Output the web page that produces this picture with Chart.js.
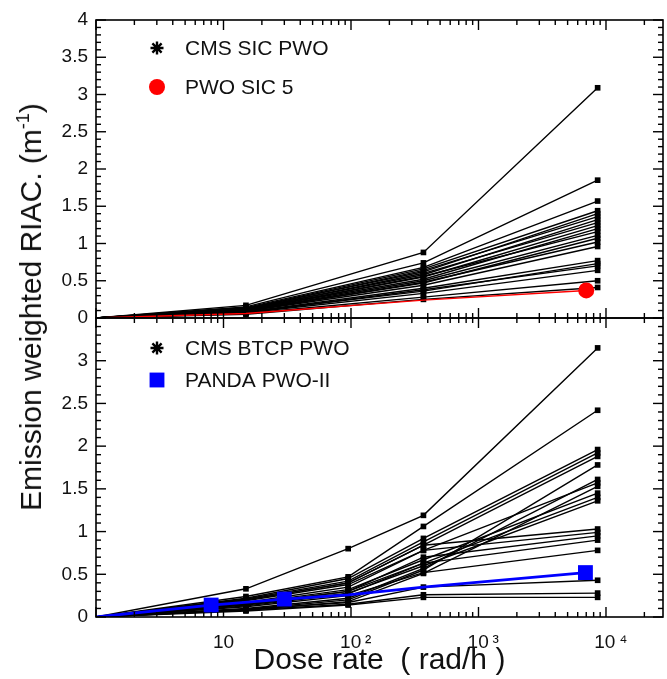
<!DOCTYPE html>
<html><head><meta charset="utf-8">
<script src="https://cdn.jsdelivr.net/npm/chart.js@4/dist/chart.umd.min.js"></script>
<style>
html,body{margin:0;padding:0;background:#fff;}
#wrap{position:relative;width:667px;height:679px;overflow:hidden;font-family:"Liberation Sans",Arial,sans-serif;}
#chart{position:absolute;left:0;top:0;}
#ytitle{position:absolute;left:31px;top:307px;transform:translate(-50%,-50%) rotate(-90deg);white-space:nowrap;font-size:30px;color:#111;line-height:1;}
#ytitle sup{font-size:60%;vertical-align:top;position:relative;top:-2px;}
</style></head><body>
<div id="wrap">
<canvas id="chart" width="667" height="679"></canvas>
<div id="ytitle">Emission weighted RIAC. (m<sup>-1</sup>)</div>
</div>
<script>
// ---------- data ----------
// dose rates (rad/h) of the measurement points
const sicDoseRates  = [1, 15, 370, 8600];
const btcpDoseRates = [1, 15, 95, 370, 8600];
const pwoSic5DoseRates = [1, 15, 370, 7000];
const pandaDoseRates   = [1, 8, 30, 95, 370, 6900];

// top panel: CMS SIC PWO crystals (0 at 1 rad/h)
const sicAt15   = [0.17,0.15,0.14,0.13,0.13,0.12,0.12,0.11,0.11,0.11,0.10,0.10,0.10,0.09,0.09,0.08,0.08,0.07,0.07,0.06,0.05];
const sicAt370  = [0.88,0.74,0.68,0.66,0.62,0.64,0.58,0.60,0.55,0.52,0.56,0.50,0.47,0.48,0.44,0.40,0.36,0.38,0.33,0.28,0.25];
const sicAt8600 = [3.09,1.85,1.57,1.44,1.40,1.36,1.32,1.28,1.24,1.20,1.16,1.11,1.07,1.02,0.96,0.77,0.73,0.70,0.64,0.50,0.41];
const pwoSic5   = [0, 0.06, 0.24, 0.37];

// bottom panel: CMS BTCP PWO crystals
const btcpAt15   = [0.33,0.24,0.22,0.21,0.20,0.09,0.10,0.19,0.08,0.16,0.15,0.14,0.20,0.17,0.15,0.13,0.12,0.09,0.08,0.07];
const btcpAt95   = [0.80,0.47,0.45,0.42,0.40,0.20,0.22,0.38,0.18,0.32,0.30,0.28,0.40,0.35,0.30,0.27,0.25,0.17,0.15,0.14];
const btcpAt370  = [1.19,1.06,0.92,0.88,0.84,0.55,0.57,0.78,0.51,0.67,0.63,0.60,0.84,0.78,0.70,0.63,0.52,0.35,0.26,0.23];
const btcpAt8600 = [3.15,2.42,1.96,1.92,1.88,1.78,1.61,1.57,1.53,1.45,1.40,1.36,1.03,0.99,0.95,0.90,0.78,0.43,0.28,0.23];
const pandaPwoII = [0, 0.14, 0.21, 0.26, 0.35, 0.52];

const legendTop    = ['CMS SIC PWO', 'PWO SIC 5'];
const legendBottom = ['CMS BTCP PWO', 'PANDA PWO-II'];
const xTickLabels  = {10: '10', 100: '\u200210\u2009\u00B2', 1000: '\u200210\u2009\u00B3', 10000: '\u200210\u2009\u2074'};
const topYTicks    = [0, 0.5, 1, 1.5, 2, 2.5, 3, 3.5, 4];
const bottomYTicks = [0, 0.5, 1, 1.5, 2, 2.5, 3];

// ---------- helpers ----------
const FONT = '"Liberation Sans", Arial, sans-serif';
const pts = (xs, ys) => xs.map((x, i) => ({x, y: ys[i]}));
const noPad = s => { s.paddingLeft = 0; s.paddingRight = 0; s.paddingTop = 0; s.paddingBottom = 0; };

function blackSet(label, axis, xs, ys) {
  return {
    label, yAxisID: axis, data: pts(xs, ys), borderColor: '#000', borderWidth: 1.4,
    pointStyle: 'rect', backgroundColor: '#000', pointBackgroundColor: '#000',
    pointBorderWidth: 0, pointRadius: xs.map((x, i) => i === 0 ? 0 : 4),
    tension: 0, fill: false
  };
}

const framePlugin = {
  id: 'frame',
  afterDraw(chart) {
    const {ctx, chartArea: a, scales} = chart;
    const x = scales.x;
    ctx.save();
    ['yTop', 'yBot'].forEach(id => {
      const y = scales[id];
      ctx.strokeStyle = '#000';
      ctx.lineWidth = 1.6;
      ctx.strokeRect(a.left, y.top, a.right - a.left, y.bottom - y.top);
      ctx.fillStyle = '#000';
      const w = 1.4;
      const n = Math.round((y.max - y.min) / 0.1);
      for (let i = 0; i <= n; i++) {
        const p = y.getPixelForValue(y.min + i * 0.1);
        const L = (i % 5 === 0) ? 10 : 5;
        ctx.fillRect(a.left, p - w / 2, L, w);
        ctx.fillRect(a.right - L, p - w / 2, L, w);
      }
      for (let d = 1; d <= x.max; d *= 10) {
        for (let k = 1; k <= 9; k++) {
          const v = k * d;
          if (v < x.min || v > x.max) continue;
          const p = x.getPixelForValue(v);
          const L = k === 1 ? 10 : 5;
          ctx.fillRect(p - w / 2, y.top, w, L);
          ctx.fillRect(p - w / 2, y.bottom - L, w, L);
        }
      }
    });
    ctx.restore();
  }
};

const panelLegendPlugin = {
  id: 'panelLegend',
  afterDraw(chart, args, opts) {
    const {ctx, chartArea: a} = chart;
    ctx.save();
    ctx.font = '21px ' + FONT;
    ctx.textBaseline = 'middle';
    ctx.textAlign = 'left';
    opts.panels.forEach(panel => {
      const top = chart.scales[panel.axis].top;
      panel.items.forEach((it, i) => {
        const cy = top + panel.top + i * panel.gap;
        const cx = a.left + opts.markerX;
        ctx.fillStyle = it.color;
        ctx.strokeStyle = it.color;
        ctx.lineWidth = it.lineWidth;
        Chart.helpers.drawPoint(ctx, {pointStyle: it.style, radius: it.radius, rotation: 0, borderWidth: it.lineWidth}, cx, cy);
        ctx.fillStyle = '#111';
        ctx.fillText(it.text, a.left + opts.textX, cy + 1);
      });
    });
    ctx.restore();
  }
};

function yScale(max, shown, stackWeight, weight) {
  return {
    type: 'linear', position: 'left', stack: 'panels', stackWeight, weight,
    min: 0, max: max,
    grid: {display: false, drawTicks: false}, border: {display: false},
    ticks: {
      stepSize: 0.5, autoSkip: false, padding: 8, color: '#111', font: {family: FONT, size: 19},
      callback: v => shown.includes(v) ? String(v) : ''
    },
    afterFit: s => { s.width = 96; noPad(s); }
  };
}

// ---------- datasets ----------
const datasets = [
  {
    label: legendBottom[1], yAxisID: 'yBot', data: pts(pandaDoseRates, pandaPwoII), borderColor: '#0000ff', borderWidth: 2.8,
    pointStyle: 'rect', backgroundColor: '#0000ff', pointBackgroundColor: '#0000ff', pointBorderWidth: 0,
    pointRadius: [0, 10.5, 10.5, 0, 0, 10.5], tension: 0, fill: false
  },
  {
    label: legendTop[1], yAxisID: 'yTop', data: pts(pwoSic5DoseRates, pwoSic5), borderColor: '#ff0000', borderWidth: 1.4,
    pointStyle: 'circle', backgroundColor: '#ff0000', pointBackgroundColor: '#ff0000', pointBorderWidth: 0,
    pointRadius: [0, 0, 0, 8], tension: 0, fill: false
  }
];
sicAt8600.forEach((v, i) => datasets.push(blackSet(legendTop[0] + ' ' + (i + 1), 'yTop', sicDoseRates, [0, sicAt15[i], sicAt370[i], v])));
btcpAt8600.forEach((v, i) => datasets.push(blackSet(legendBottom[0] + ' ' + (i + 1), 'yBot', btcpDoseRates, [0, btcpAt15[i], btcpAt95[i], btcpAt370[i], v])));

// ---------- chart ----------
new Chart(document.getElementById('chart'), {
  type: 'line',
  data: {datasets},
  options: {
    responsive: false, animation: false,
    layout: {padding: {top: 20, right: 4, bottom: 0, left: 0}, autoPadding: false},
    scales: {
      x: {
        type: 'logarithmic', min: 1, max: 28000,
        grid: {display: false, drawTicks: false}, border: {display: false},
        ticks: {
          autoSkip: false, maxRotation: 0, padding: 14, color: '#111', font: {family: FONT, size: 19},
          callback: v => xTickLabels[Math.round(v)] && Math.abs(v - Math.round(v)) < 1e-6 ? xTickLabels[Math.round(v)] : ''
        },
        title: {display: true, text: 'Dose rate  ( rad/h )', color: '#111', font: {family: FONT, size: 30}, padding: {top: 0, bottom: 0}},
        afterFit: s => { s.height = 62; noPad(s); }
      },
      yTop: yScale(4, topYTicks, 298, 2),
      yBot: yScale(3.5, bottomYTicks, 299, 1)
    },
    plugins: {
      legend: {display: false}, tooltip: {enabled: false},
      panelLegend: {markerX: 61, textX: 89, panels: [
        {axis: 'yTop', top: 28, gap: 39, items: [
          {text: legendTop[0], style: 'star', radius: 6.5, color: '#000', lineWidth: 2.4},
          {text: legendTop[1], style: 'circle', radius: 8, color: '#ff0000', lineWidth: 0}
        ]},
        {axis: 'yBot', top: 30, gap: 32, items: [
          {text: legendBottom[0], style: 'star', radius: 6.5, color: '#000', lineWidth: 2.4},
          {text: legendBottom[1], style: 'rect', radius: 10.5, color: '#0000ff', lineWidth: 0}
        ]}
      ]}
    }
  },
  plugins: [framePlugin, panelLegendPlugin]
});
</script>
</body></html>
